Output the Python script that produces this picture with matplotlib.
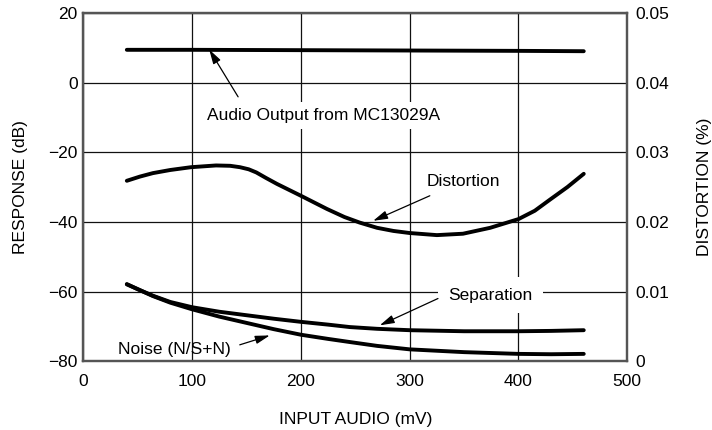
import matplotlib
matplotlib.use('Agg')
import matplotlib.pyplot as plt

plt.rcParams['font.family'] = ['Liberation Sans', 'DejaVu Sans']
plt.rcParams['font.size'] = 12.5

# Data
audio_mv = [40, 100, 200, 300, 400, 460]
audio_db = [9.4, 9.4, 9.3, 9.2, 9.1, 9.0]

dist_mv = [40, 52, 64, 80, 99, 122, 135, 144, 152, 159, 168, 178, 200, 224, 240, 254,
           270, 285, 300, 325, 349, 374, 400, 415, 429, 445, 460]
dist_pct = [0.0259, 0.0265, 0.0270, 0.02745, 0.02785, 0.0281, 0.02805, 0.02785, 0.02755,
            0.0271, 0.0263, 0.02545, 0.02375, 0.02185, 0.0207, 0.0199, 0.01915, 0.0187,
            0.0184, 0.0181, 0.0183, 0.01915, 0.0204, 0.0216, 0.0232, 0.0250, 0.0269]

sep_mv = [40, 52, 64, 80, 100, 125, 150, 175, 200, 225, 245, 270, 300, 350, 400, 430, 460]
sep_db = [-57.9, -59.6, -61.2, -63.0, -64.5, -65.8, -66.8, -67.8, -68.7, -69.5, -70.2,
          -70.7, -71.1, -71.4, -71.4, -71.3, -71.1]

noise_mv = [40, 52, 64, 80, 100, 125, 150, 175, 200, 225, 245, 270, 300, 350, 400, 430, 460]
noise_db = [-57.9, -59.6, -61.3, -63.2, -65.1, -67.2, -69.0, -70.8, -72.4, -73.6, -74.5,
            -75.6, -76.6, -77.4, -77.9, -78.0, -77.9]

x_ticks = [0, 100, 200, 300, 400, 500]
y_ticks = [-80, -60, -40, -20, 0, 20]
y_tick_labels = ['\u221280', '\u221260', '\u221240', '\u221220', '0', '20']
r_ticks = [0, 0.01, 0.02, 0.03, 0.04, 0.05]
r_tick_labels = ['0', '0.01', '0.02', '0.03', '0.04', '0.05']

fig = plt.figure(figsize=(7.12, 4.30), dpi=100)
ax = fig.add_axes([0.117, 0.160, 0.764, 0.810])
ax2 = ax.twinx()

ax.set_xlim(0, 500)
ax.set_ylim(-80, 20)
ax2.set_ylim(0, 0.05)

ax.set_xticks(x_ticks)
ax.set_yticks(y_ticks)
ax.set_yticklabels(y_tick_labels)
ax2.set_yticks(r_ticks)
ax2.set_yticklabels(r_tick_labels)

ax.tick_params(axis='x', length=0, pad=9)
ax.tick_params(axis='y', length=0, pad=4)
ax2.tick_params(axis='y', length=0, pad=6)

ax.grid(True, color='#111111', lw=0.9)
ax.set_axisbelow(True)
for a in (ax, ax2):
    for s in a.spines.values():
        s.set_color('#555555')
        s.set_linewidth(1.6)

ax.set_xlabel('INPUT AUDIO (mV)', labelpad=17)
ax.set_ylabel('RESPONSE (dB)', labelpad=15)
ax2.set_ylabel('DISTORTION (%)', labelpad=20)

lw = 2.8
ax.plot(audio_mv, audio_db, color='black', lw=lw, solid_capstyle='round', zorder=4)
ax.plot(sep_mv, sep_db, color='black', lw=lw, solid_capstyle='round',
        solid_joinstyle='round', zorder=4)
ax.plot(noise_mv, noise_db, color='black', lw=lw, solid_capstyle='round',
        solid_joinstyle='round', zorder=4)
ax2.plot(dist_mv, dist_pct, color='black', lw=lw, solid_capstyle='round',
         solid_joinstyle='round', zorder=4)

arrow = dict(arrowstyle='-|>,head_length=0.7,head_width=0.2', color='black', lw=0.9,
             shrinkA=0, shrinkB=0)
box = dict(boxstyle='square,pad=0.35', fc='white', ec='none')

ax.text(113.5, -9.4, 'Audio Output from MC13029A', ha='left', va='center', bbox=box, zorder=3)
ax.annotate('', xy=(115.7, 9.5), xytext=(142.3, -4.1), arrowprops=arrow)

ax.text(349, -28.4, 'Distortion', ha='center', va='center')
ax.annotate('', xy=(266.4, -39.7), xytext=(318.5, -32.5), arrowprops=arrow)

ax.text(374, -61, 'Separation', ha='center', va='center',
        bbox=dict(boxstyle='square,pad=0.6', fc='white', ec='none'), zorder=3)
ax.annotate('', xy=(272.5, -69.7), xytext=(326, -62), arrowprops=arrow)

ax.text(84, -76.6, 'Noise (N/S+N)', ha='center', va='center')
ax.annotate('', xy=(171.4, -72.6), xytext=(143.8, -75.3), arrowprops=arrow)

fig.savefig('out.png', dpi=100)
